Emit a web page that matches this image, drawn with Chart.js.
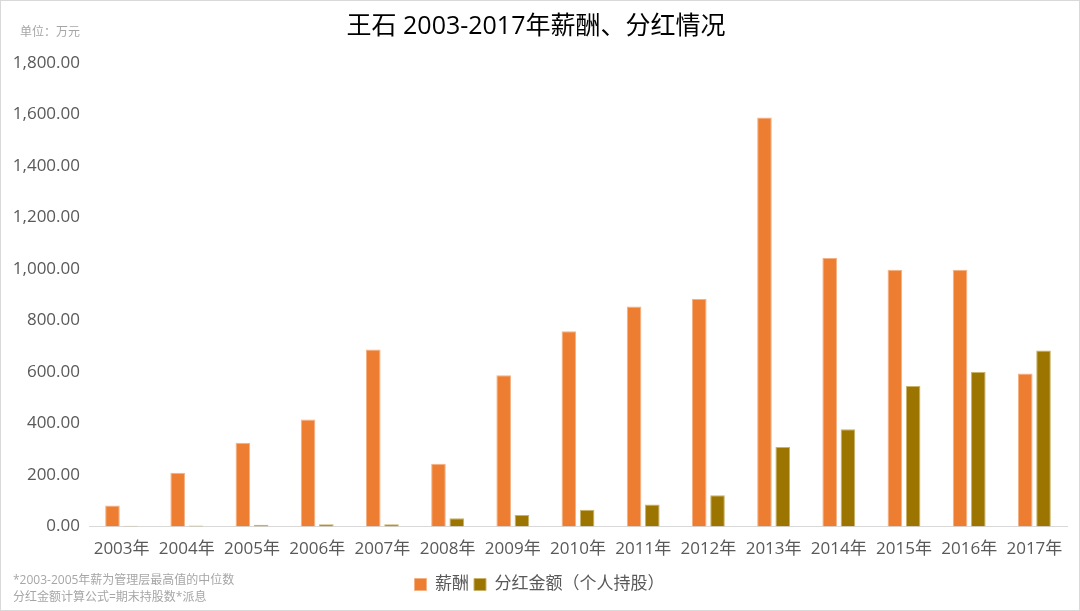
<!DOCTYPE html>
<html><head><meta charset="utf-8">
<script src="https://cdn.jsdelivr.net/npm/chart.js@4/dist/chart.umd.min.js"></script>
<style>
html,body{margin:0;padding:0;background:#fff;}
#wrap{position:relative;width:1080px;height:611px;box-sizing:border-box;border:1px solid #d9d9d9;}
canvas{display:block;}
</style></head>
<body><div id="wrap"><canvas id="c" width="1078" height="609"></canvas></div>
<script>
const categories = ['2003年','2004年','2005年','2006年','2007年','2008年','2009年','2010年','2011年','2012年','2013年','2014年','2015年','2016年','2017年'];
const salary = [82, 209, 326, 416, 688, 244, 588, 758, 855, 884, 1588, 1043, 997, 997, 594];
const dividend = [3, 4, 7, 9, 9, 32, 45, 65, 86, 122, 309, 378, 546, 600, 684];
const seriesNames = ['薪酬', '分红金额（个人持股）'];
const titleText = '王石 2003-2017年薪酬、分红情况';
const unitText = '单位：万元';
const notes = ['*2003-2005年薪为管理层最高值的中位数', '分红金额计算公式=期末持股数*派息'];

const FONT = '"Open Sans", "Noto Sans CJK SC", sans-serif';
Chart.defaults.font.family = FONT;
Chart.defaults.color = '#595959';

const textPlugin = {
  id: 'texts',
  afterDraw(chart) {
    const ctx = chart.ctx;
    ctx.save();
    ctx.fillStyle = '#000';
    ctx.font = '25px ' + FONT;
    ctx.textAlign = 'center';
    ctx.textBaseline = 'middle';
    ctx.fillText(titleText, 535, 26);
    ctx.fillStyle = '#a6a6a6';
    ctx.font = '12px ' + FONT;
    ctx.textAlign = 'left';
    ctx.fillText(unitText, 19, 32);
    ctx.fillText(notes[0], 12, 580);
    ctx.fillText(notes[1], 12, 597);
    ctx.restore();
  }
};

new Chart(document.getElementById('c'), {
  type: 'bar',
  data: {
    labels: categories,
    datasets: [
      { label: seriesNames[0], data: salary, backgroundColor: '#ED7D31', borderColor: '#F4B183', borderWidth: 1, categoryPercentage: 0.56, barPercentage: 0.8 },
      { label: seriesNames[1], data: dividend, backgroundColor: '#9C7500', borderColor: '#C9B26A', borderWidth: 1, categoryPercentage: 0.56, barPercentage: 0.8 }
    ]
  },
  plugins: [textPlugin],
  options: {
    responsive: false,
    animation: false,
    layout: { padding: { top: 62, right: 12, left: 11, bottom: 7 } },
    plugins: {
      title: { display: false },
      tooltip: { enabled: false },
      legend: {
        position: 'bottom',
        labels: { boxWidth: 12, boxHeight: 12, font: { size: 17 }, color: '#595959', padding: 5 }
      }
    },
    scales: {
      x: {
        grid: { display: false, drawTicks: false },
        border: { display: true, color: '#d9d9d9', width: 1 },
        ticks: { font: { size: 17 }, color: '#595959', maxRotation: 0, autoSkip: false, padding: 12 }
      },
      y: {
        min: 0, max: 1800,
        grid: { display: false, drawTicks: false },
        border: { display: false },
        afterFit(scale) { scale.width = 77; },
        ticks: {
          stepSize: 200, font: { size: 17 }, color: '#595959', padding: 9,
          callback: v => v.toLocaleString('en-US', { minimumFractionDigits: 2, maximumFractionDigits: 2 })
        }
      }
    }
  }
});
</script></body></html>
